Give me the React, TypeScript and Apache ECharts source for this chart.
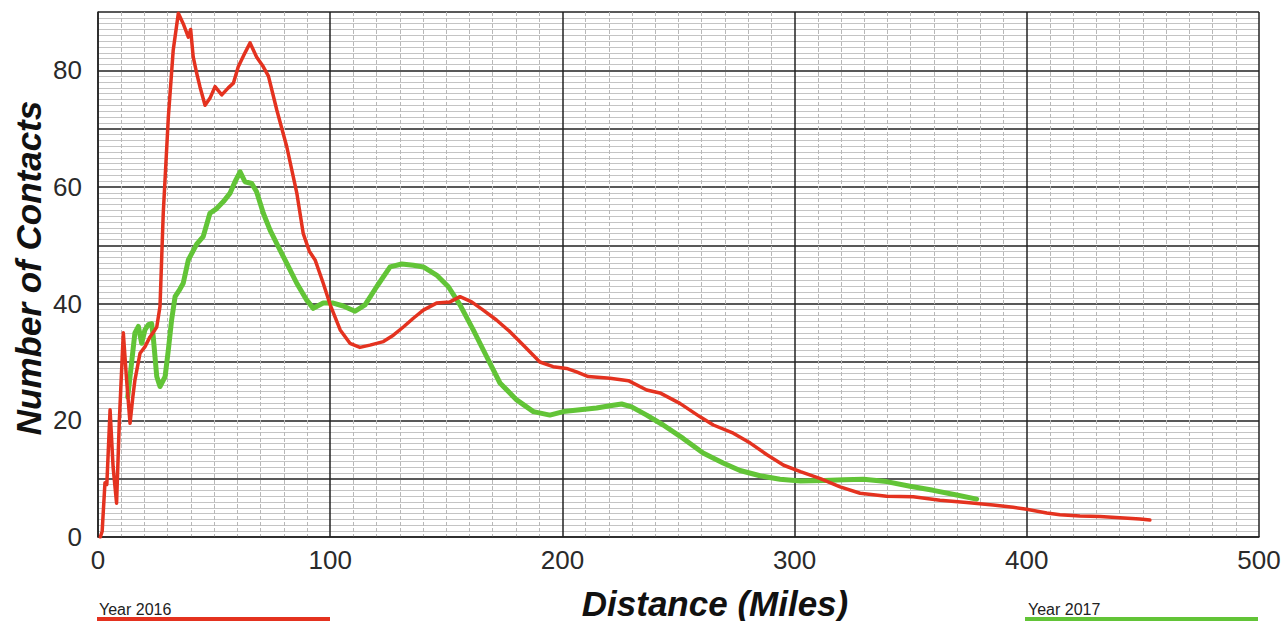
import React, { useEffect, useRef } from "react";
import * as echarts from "echarts";

const dist2016 = [1.0, 1.8, 2.3, 3.0, 3.8, 5.2, 6.5, 8.0, 9.2, 10.9, 12.3, 13.8, 15.0, 15.9, 18.1, 20.2, 22.4, 24.5, 25.3, 26.7, 28.1, 30.3, 32.4, 34.6, 36.7, 38.9, 39.9, 41.0, 42.5, 43.9, 46.1, 48.2, 50.4, 53.3, 56.1, 58.3, 60.4, 63.3, 65.5, 68.3, 71.2, 73.4, 77.0, 81.3, 85.6, 88.4, 91.0, 93.5, 97.0, 100.0, 104.3, 108.5, 112.8, 117.1, 122.9, 127.2, 131.5, 135.8, 140.1, 145.8, 151.6, 155.9, 160.9, 165.9, 171.6, 177.4, 183.1, 190.3, 196.0, 201.8, 206.1, 211.1, 220.5, 228.4, 236.3, 242.0, 250.6, 259.3, 265.0, 273.6, 280.9, 288.1, 295.3, 302.5, 311.1, 319.6, 328.2, 339.6, 351.1, 362.6, 374.1, 385.5, 394.1, 400.0, 408.6, 414.3, 422.9, 431.5, 440.1, 448.7, 453.0];
const contacts2016 = [0, 1, 4.5, 9.3, 9.0, 21.8, 12, 5.8, 20, 35, 27, 19.5, 24, 26.9, 31.5, 32.6, 34.3, 35.5, 36, 39.5, 55.5, 72, 83.5, 89.8, 88, 85.7, 87, 82.3, 79.5, 77.2, 74, 75.2, 77.2, 75.8, 77, 77.8, 80.6, 83, 84.7, 82.3, 80.6, 79, 73.2, 66.9, 59, 52, 49, 47.5, 43.5, 39.8, 35.5, 33.2, 32.5, 32.9, 33.5, 34.6, 36, 37.5, 38.9, 40.1, 40.3, 41.2, 40.3, 38.9, 37.2, 35.2, 32.9, 30, 29.2, 28.9, 28.3, 27.5, 27.2, 26.8, 25.2, 24.7, 22.9, 20.6, 19.2, 17.8, 16.1, 14.1, 12.3, 11.2, 10, 8.6, 7.5, 7.0, 6.9, 6.3, 5.9, 5.5, 5.1, 4.75, 4.1, 3.8, 3.6, 3.5, 3.3, 3.1, 2.9];

const dist2017 = [12.8, 14.5, 15.9, 17.4, 18.8, 20.2, 21.7, 23.1, 23.8, 25.3, 26.7, 28.9, 30.3, 31.7, 33.2, 35.3, 36.7, 38.9, 42.5, 45.3, 48.2, 51.1, 54.0, 56.8, 59.0, 61.2, 63.3, 66.2, 68.3, 71.2, 74.1, 77.6, 81.3, 85.6, 89.9, 92.7, 97.0, 101.3, 105.6, 110.7, 115.0, 120.0, 125.8, 130.8, 135.8, 140.1, 145.8, 150.9, 155.9, 161.6, 167.4, 173.1, 180.3, 187.5, 194.6, 200.4, 207.6, 214.7, 220.5, 225.5, 229.8, 236.3, 243.4, 252.0, 260.6, 269.2, 276.5, 285.1, 293.7, 302.5, 312.5, 321.2, 329.6, 339.6, 349.7, 359.7, 369.8, 378.4];
const contacts2017 = [24, 30, 35, 36.1, 33.2, 35.5, 36.4, 36.6, 34.3, 27.5, 25.8, 27.5, 32.1, 37.2, 41.2, 42.5, 43.5, 47.5, 50.2, 51.5, 55.5, 56.3, 57.5, 58.9, 60.9, 62.6, 60.9, 60.6, 59.2, 55.5, 52.6, 49.8, 46.9, 43.5, 40.6, 39.2, 40.1, 40.1, 39.6, 38.7, 39.8, 42.9, 46.3, 46.8, 46.6, 46.3, 44.9, 42.9, 39.8, 35.5, 30.9, 26.4, 23.5, 21.5, 20.9, 21.5, 21.8, 22.1, 22.5, 22.8, 22.3, 20.9, 19.2, 16.9, 14.4, 12.7, 11.4, 10.5, 9.9, 9.6, 9.7, 9.8, 9.9, 9.5, 8.7, 8.0, 7.2, 6.5];

const seriesNames = ["Year 2016", "Year 2017"];
const xTitle = "Distance (Miles)";
const yTitle = "Number of Contacts";

const RED = "#e4321f";
const GREEN = "#62c437";
const FONT = "'Liberation Sans', Arial, Helvetica, sans-serif";

export default function App() {
  const ref = useRef<HTMLDivElement>(null);
  useEffect(() => {
    if (!ref.current) return;
    const chart = echarts.init(ref.current, null, { renderer: "svg" });
    const d2016 = dist2016.map((x, i) => [x, contacts2016[i]]);
    const d2017 = dist2017.map((x, i) => [x, contacts2017[i]]);
    chart.setOption({
      animation: false,
      backgroundColor: "#ffffff",
      grid: { left: 98, top: 12, right: 27, bottom: 84, containLabel: false },
      xAxis: {
        type: "value",
        min: 0,
        max: 500,
        interval: 100,
        axisLine: { show: true, lineStyle: { color: "#222", width: 1.5 } },
        axisTick: { show: false },
        axisLabel: { fontSize: 26, color: "#2a2a2a", fontFamily: FONT, margin: 10 },
        splitLine: { show: true, lineStyle: { color: "#222", width: 1.5 } },
        minorTick: { show: false, splitNumber: 10 },
        minorSplitLine: { show: true, lineStyle: { color: "#b8b8b8", width: 1, type: [4, 2] } },
      },
      yAxis: {
        type: "value",
        min: 0,
        max: 90,
        interval: 10,
        axisLine: { show: true, lineStyle: { color: "#222", width: 1.5 } },
        axisTick: { show: false },
        axisLabel: {
          fontSize: 26,
          color: "#2a2a2a",
          fontFamily: FONT,
          margin: 16,
          formatter: (v: number) => (v % 20 === 0 ? String(v) : ""),
        },
        splitLine: { show: true, lineStyle: { color: "#222", width: 1.5 } },
        minorTick: { show: false, splitNumber: 10 },
        minorSplitLine: { show: true, lineStyle: { color: "#c4c4c4", width: 1 } },
      },
      series: [
        {
          name: seriesNames[0],
          type: "line",
          data: d2016,
          showSymbol: false,
          z: 3,
          lineStyle: { color: RED, width: 3.5, cap: "round", join: "round" },
          itemStyle: { color: RED },
        },
        {
          name: seriesNames[1],
          type: "line",
          data: d2017,
          showSymbol: false,
          z: 2,
          lineStyle: { color: GREEN, width: 5, cap: "round", join: "round" },
          itemStyle: { color: GREEN },
        },
      ],
      graphic: [
        {
          type: "text",
          x: 28,
          y: 268,
          rotation: Math.PI / 2,
          style: {
            text: yTitle,
            fontSize: 35,
            fontWeight: "bold",
            fontStyle: "italic",
            fontFamily: FONT,
            fill: "#111",
            align: "center",
            verticalAlign: "middle",
          },
        },
        {
          type: "text",
          x: 715,
          y: 603,
          style: {
            text: xTitle,
            fontSize: 35,
            fontWeight: "bold",
            fontStyle: "italic",
            fontFamily: FONT,
            fill: "#111",
            align: "center",
            verticalAlign: "middle",
          },
        },
        {
          type: "text",
          x: 99,
          y: 609,
          style: { text: seriesNames[0], fontSize: 16, fontFamily: FONT, fill: "#222", align: "left", verticalAlign: "middle" },
        },
        { type: "rect", shape: { x: 97, y: 617, width: 233, height: 5 }, style: { fill: RED } },
        {
          type: "text",
          x: 1028,
          y: 609,
          style: { text: seriesNames[1], fontSize: 16, fontFamily: FONT, fill: "#222", align: "left", verticalAlign: "middle" },
        },
        { type: "rect", shape: { x: 1025, y: 617, width: 233, height: 5 }, style: { fill: GREEN } },
      ],
    });
    return () => chart.dispose();
  }, []);
  return (
    <div
      ref={ref}
      style={{ position: "absolute", left: 0, top: 0, width: 1286, height: 621, background: "#fff" }}
    />
  );
}
